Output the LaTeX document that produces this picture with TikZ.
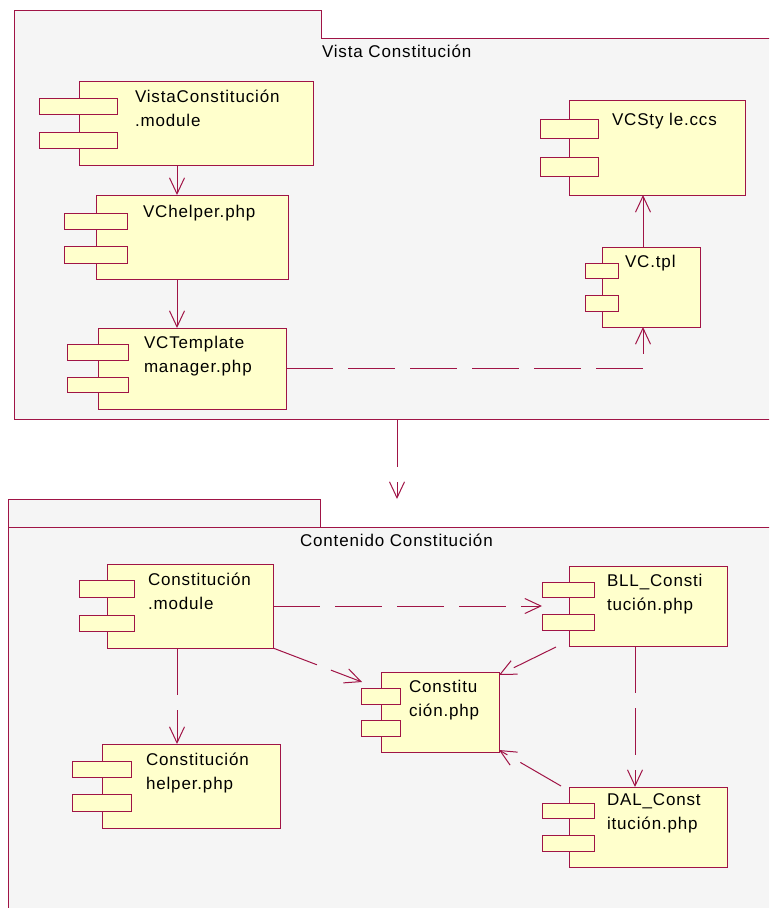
\documentclass[tikz,border=0pt]{standalone}
\usepackage{fontspec}
\setmainfont{Liberation Sans}[LetterSpace=5]
\usetikzlibrary{arrows.meta,calc}
\definecolor{rose}{RGB}{160,20,70}
\definecolor{compfill}{RGB}{255,255,204}
\definecolor{pkgfill}{RGB}{245,245,245}
\tikzset{
  boxbase/.style={rectangle, draw=rose, line width=1pt, inner sep=0pt, outer sep=0pt, anchor=north west},
  mainbox/.style={boxbase, fill=compfill},
  portbox/.style={boxbase, fill=compfill},
  pkgbody/.style={boxbase, fill=pkgfill},
  pkgtab/.style={rectangle, fill=pkgfill, inner sep=0pt, outer sep=0pt, anchor=north west},
  lbl/.style={font=\fontsize{17}{24}\selectfont, inner sep=0pt, outer sep=0pt, align=left, anchor=base west, text=black},
  dep/.style={draw=rose, line width=1pt, -{Straight Barb[length=16pt,width=15pt,line width=1pt]}},
  dashdep/.style={dep, dash pattern=on 47pt off 15pt},
}
\newcommand\cbox[6]{\node[#6, minimum width={(#4)-(#2)}, minimum height={(#5)-(#3)}] (#1) at (#2,#3) {};}
\begin{document}
\begin{tikzpicture}[x=1pt,y=-1pt]
\clip (0,0) rectangle (769,908);
\useasboundingbox (0,0) rectangle (769,908);
\fill[white] (0,0) rectangle (769,908);
% ---------- top package
\cbox{pkgA}{14}{38}{780}{419}{pkgbody}
\node[pkgtab, minimum width=307, minimum height=29] (pkgAtab) at (14,10) {};
\draw[rose, line width=1pt] (pkgAtab.south west) |- (pkgAtab.north east) -- (pkgAtab.south east);
\node[lbl] (pkgAlbl) at (322,57) {Vista Constitución};
% ---------- bottom package
\cbox{pkgB}{8}{527}{780}{920}{pkgbody}
\cbox{pkgBtab}{8}{499}{320}{527}{pkgbody}
\node[lbl] (pkgBlbl) at (300,546) {Contenido Constitución};
% ---------- top components (label anchor = baseline of last line)
\cbox{vcm}{79}{81}{313}{165}{mainbox}
\cbox{vcmA}{39}{98}{117}{114}{portbox}
\cbox{vcmB}{39}{132}{117}{148}{portbox}
\node[lbl] (vcmT) at (135,126) {VistaConstitución\\.module};

\cbox{vch}{96}{195}{288}{279}{mainbox}
\cbox{vchA}{64}{213}{127}{229}{portbox}
\cbox{vchB}{64}{246}{127}{263}{portbox}
\node[lbl] (vchT) at (143,217) {VChelper.php};

\cbox{vctm}{98}{328}{286}{409}{mainbox}
\cbox{vctmA}{67}{344}{128}{360}{portbox}
\cbox{vctmB}{67}{377}{128}{392}{portbox}
\node[lbl] (vctmT) at (144,372) {VCTemplate\\manager.php};

\cbox{vcs}{569}{100}{745}{195}{mainbox}
\cbox{vcsA}{540}{119}{598}{138}{portbox}
\cbox{vcsB}{540}{157}{598}{176}{portbox}
\node[lbl] (vcsT) at (612,125) {VCSty le.ccs};

\cbox{vct}{602}{247}{700}{327}{mainbox}
\cbox{vctA}{585}{263}{618}{278}{portbox}
\cbox{vctB}{585}{295}{618}{311}{portbox}
\node[lbl] (vctT) at (625,267) {VC.tpl};
% ---------- bottom components
\cbox{cm}{107}{564}{273}{648}{mainbox}
\cbox{cmA}{79}{580}{134}{597}{portbox}
\cbox{cmB}{79}{615}{134}{631}{portbox}
\node[lbl] (cmT) at (148,609) {Constitución\\.module};

\cbox{ch}{102}{744}{280}{828}{mainbox}
\cbox{chA}{72}{761}{131}{777}{portbox}
\cbox{chB}{72}{794}{131}{811}{portbox}
\node[lbl] (chT) at (146,789) {Constitución\\helper.php};

\cbox{cp}{381}{672}{499}{752}{mainbox}
\cbox{cpA}{361}{688}{400}{704}{portbox}
\cbox{cpB}{361}{720}{400}{736}{portbox}
\node[lbl] (cpT) at (409,716) {Constitu\\ción.php};

\cbox{bll}{569}{566}{727}{646}{mainbox}
\cbox{bllA}{542}{582}{594}{597}{portbox}
\cbox{bllB}{542}{614}{594}{630}{portbox}
\node[lbl] (bllT) at (607,610) {BLL\_Consti\\tución.php};

\cbox{dal}{569}{787}{727}{867}{mainbox}
\cbox{dalA}{542}{803}{594}{818}{portbox}
\cbox{dalB}{542}{835}{594}{851}{portbox}
\node[lbl] (dalT) at (607,829) {DAL\_Const\\itución.php};
% ---------- connectors
\draw[dep] ($(vcm.south west)+(98,0)$) -- ($(vch.north west)+(81,0)$);
\draw[dep] ($(vch.south west)+(81,0)$) -- ($(vctm.north west)+(79,0)$);
\draw[dashdep] (vctm.east) -| ($(vct.south west)+(41,0)$);
\draw[dep] ($(vct.north west)+(41,0)$) -- ($(vcs.south west)+(74,0)$);
\draw[dashdep] ($(pkgA.south west)+(383,1)$) -- ($(pkgBtab.north west)+(389,0)$);
\draw[dashdep] ($(cm.south west)+(70,0)$) -- ($(ch.north west)+(75,0)$);
\draw[dashdep] (cm.east) -- (cm.east -| bllA.west);
\draw[dashdep] (cm.south east) -- ($(cpA.north west)+(1,-6)$);
\draw[dashdep] ($(bll.south west)+(-13,1)$) -- ($(cp.north east)+(0,3)$);
\draw[dashdep] ($(bll.south west)+(66,0)$) -- ($(dal.north west)+(66,0)$);
\draw[dashdep] ($(dal.north west)+(-8,-1)$) -- ($(cp.south east)+(0,-2)$);
\end{tikzpicture}
\end{document}
